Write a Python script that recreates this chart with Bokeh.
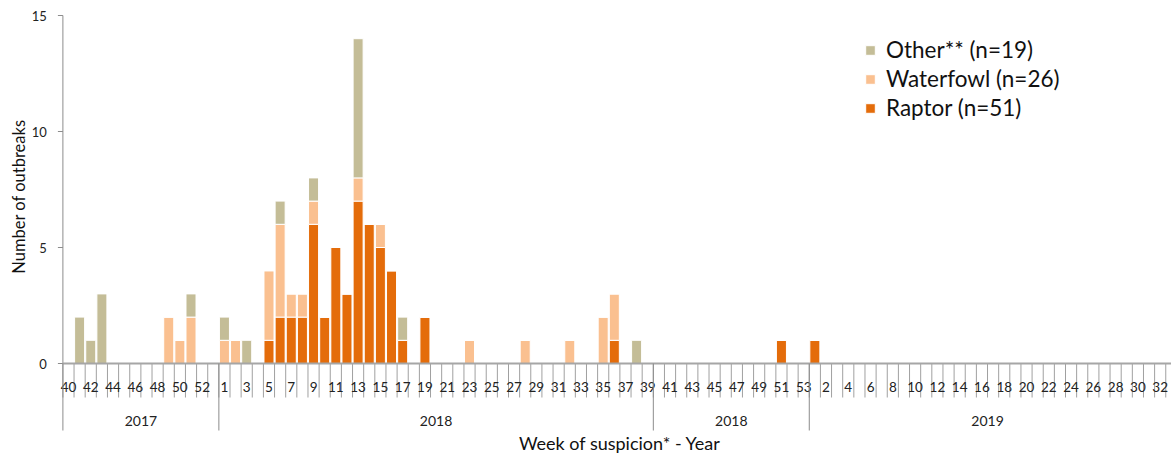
import math
from bokeh.plotting import figure
from bokeh.models import ColumnDataSource, Range1d, Legend, LegendItem
from bokeh.core.properties import value
from bokeh.embed import file_html
from bokeh.resources import INLINE

# ---- data ----
weeks_2017 = list(range(40, 54))    # season weeks shown under "2017"
weeks_2018a = list(range(1, 40))    # "2018"
weeks_2018b = list(range(40, 54))   # "2018"
weeks_2019 = list(range(1, 33))     # "2019"
year_groups = ["2017", "2018", "2018", "2019"]

raptor_2017 = [0] * 14
raptor_2018a = [0, 0, 0, 0, 1, 2, 2, 2, 6, 2, 5, 3, 7, 6, 5, 4, 1, 0, 2,
                0, 0, 0, 0, 0, 0, 0, 0, 0, 0, 0, 0, 0, 0, 0, 0, 1, 0, 0, 0]
raptor_2018b = [0, 0, 0, 0, 0, 0, 0, 0, 0, 0, 0, 1, 0, 0]
raptor_2019 = [1] + [0] * 31

waterfowl_2017 = [0, 0, 0, 0, 0, 0, 0, 0, 0, 2, 1, 2, 0, 0]
waterfowl_2018a = [1, 1, 0, 0, 3, 4, 1, 1, 1, 0, 0, 0, 1, 0, 1, 0, 0, 0, 0,
                   0, 0, 0, 1, 0, 0, 0, 0, 1, 0, 0, 0, 1, 0, 0, 2, 2, 0, 0, 0]
waterfowl_2018b = [0] * 14
waterfowl_2019 = [0] * 32

other_2017 = [0, 2, 1, 3, 0, 0, 0, 0, 0, 0, 0, 1, 0, 0]
other_2018a = [1, 0, 1, 0, 0, 1, 0, 0, 1, 0, 0, 0, 6, 0, 0, 0, 1, 0, 0,
               0, 0, 0, 0, 0, 0, 0, 0, 0, 0, 0, 0, 0, 0, 0, 0, 0, 0, 1, 0]
other_2018b = [0] * 14
other_2019 = [0] * 32

series_labels = ["Raptor (n=51)", "Waterfowl (n=26)", "Other** (n=19)"]
colors = ["#E46C0A", "#FAC090", "#C4BD97"]
y_ticks = [0, 5, 10, 15]
y_title = "Number of outbreaks"
x_title = "Week of suspicion* - Year"

# ---- build ----
groups = [weeks_2017, weeks_2018a, weeks_2018b, weeks_2019]
weeks = sum(groups, [])
n = len(weeks)
xs = list(range(n))
raptor = raptor_2017 + raptor_2018a + raptor_2018b + raptor_2019
waterfowl = waterfowl_2017 + waterfowl_2018a + waterfowl_2018b + waterfowl_2019
other = other_2017 + other_2018a + other_2018b + other_2019

src = ColumnDataSource(dict(x=xs, raptor=raptor, waterfowl=waterfowl, other=other))

FONT = "Lato"
W, H = 1171, 456
AX_LEFT, AX_TOP = 62.4, 15          # pixel position of the axis corner
ppc = 11.14                          # pixels per category
ppu = 23.2                           # pixels per count unit
y_max = max(y_ticks)
x_lo = -0.5 - AX_LEFT / ppc
x_hi = x_lo + W / ppc
y_hi = y_max + AX_TOP / ppu
y_lo = y_hi - H / ppu

p = figure(width=W, height=H, output_backend="svg", toolbar_location=None,
           x_range=Range1d(x_lo, x_hi), y_range=Range1d(y_lo, y_hi),
           x_axis_location=None, y_axis_location=None,
           min_border_left=0, min_border_right=0, min_border_top=0, min_border_bottom=0)
p.outline_line_color = None
p.xgrid.visible = False
p.ygrid.visible = False
p.background_fill_color = "white"

rs = p.vbar_stack(["raptor", "waterfowl", "other"], x="x", width=0.9, source=src,
                  color=colors, line_color="white", line_width=1)

def dx(px):
    return px / ppc

def dy(px):
    return px / ppu

# ---- value axis (drawn with glyphs through the plot's scales) ----
x_axis0 = -0.5
p.segment(x0=[x_axis0], y0=[0], x1=[x_axis0], y1=[y_max], line_color="#8C8C8C", line_width=1)
p.segment(x0=[x_axis0 - dx(5)] * len(y_ticks), y0=y_ticks, x1=[x_axis0] * len(y_ticks), y1=y_ticks,
          line_color="#8C8C8C", line_width=1)
p.text(x=[x_axis0 - dx(16)] * len(y_ticks), y=y_ticks, text=[str(t) for t in y_ticks],
       text_align="right", text_baseline="middle", text_font=value(FONT),
       text_font_size="13px", text_color="#222222")
p.text(x=[x_axis0 - dx(44)], y=[y_max / 2 - dy(7)], text=[y_title], angle=math.pi / 2,
       text_align="center", text_baseline="middle", text_font=value(FONT),
       text_font_size="16.5px", text_color="#111111")

# ---- category axis ----
bounds_x = [i - 0.5 for i in range(n + 1)]
p.segment(x0=bounds_x, y0=[0] * len(bounds_x), x1=bounds_x, y1=[-dy(34)] * len(bounds_x),
          line_color="#A0A0A0", line_width=1)
p.segment(x0=[-0.5], y0=[0], x1=[x_hi], y1=[0], line_color="#A6A6A6", line_width=2)

lab_x = xs[::2]
lab_t = [str(weeks[i]) for i in lab_x]
p.text(x=lab_x, y=[-dy(23)] * len(lab_x), text=lab_t, text_align="center",
       text_baseline="middle", text_font=value(FONT), text_font_size="13.5px",
       text_color="#222222")

starts = []
s = 0
for g in groups:
    starts.append(s)
    s += len(g)
sep_x = [st - 0.5 for st in starts]
p.segment(x0=sep_x, y0=[0] * len(sep_x), x1=sep_x, y1=[-dy(67)] * len(sep_x),
          line_color="#8C8C8C", line_width=1)
mid_x = [st + (len(g) - 1) / 2 for st, g in zip(starts, groups)]
p.text(x=mid_x, y=[-dy(57)] * len(mid_x), text=year_groups, text_align="center",
       text_baseline="middle", text_font=value(FONT), text_font_size="14px",
       text_color="#222222")
p.text(x=[(n - 1) / 2 + 0.5], y=[-dy(79)], text=[x_title], text_align="center",
       text_baseline="middle", text_font=value(FONT), text_font_size="18px",
       text_color="#111111")

legend = Legend(items=[LegendItem(label=series_labels[2], renderers=[rs[2]]),
                       LegendItem(label=series_labels[1], renderers=[rs[1]]),
                       LegendItem(label=series_labels[0], renderers=[rs[0]])],
                location=(864, 335), orientation="vertical")
legend.border_line_color = None
legend.background_fill_alpha = 0
legend.margin = 0
legend.padding = 0
legend.spacing = 2
legend.glyph_width = 12
legend.glyph_height = 12
legend.label_height = 24
legend.label_standoff = 10
legend.label_text_font = FONT
legend.label_text_font_size = "22.5px"
legend.label_text_color = "#111111"
p.add_layout(legend)

open("out.html", "w").write(file_html(p, INLINE))
